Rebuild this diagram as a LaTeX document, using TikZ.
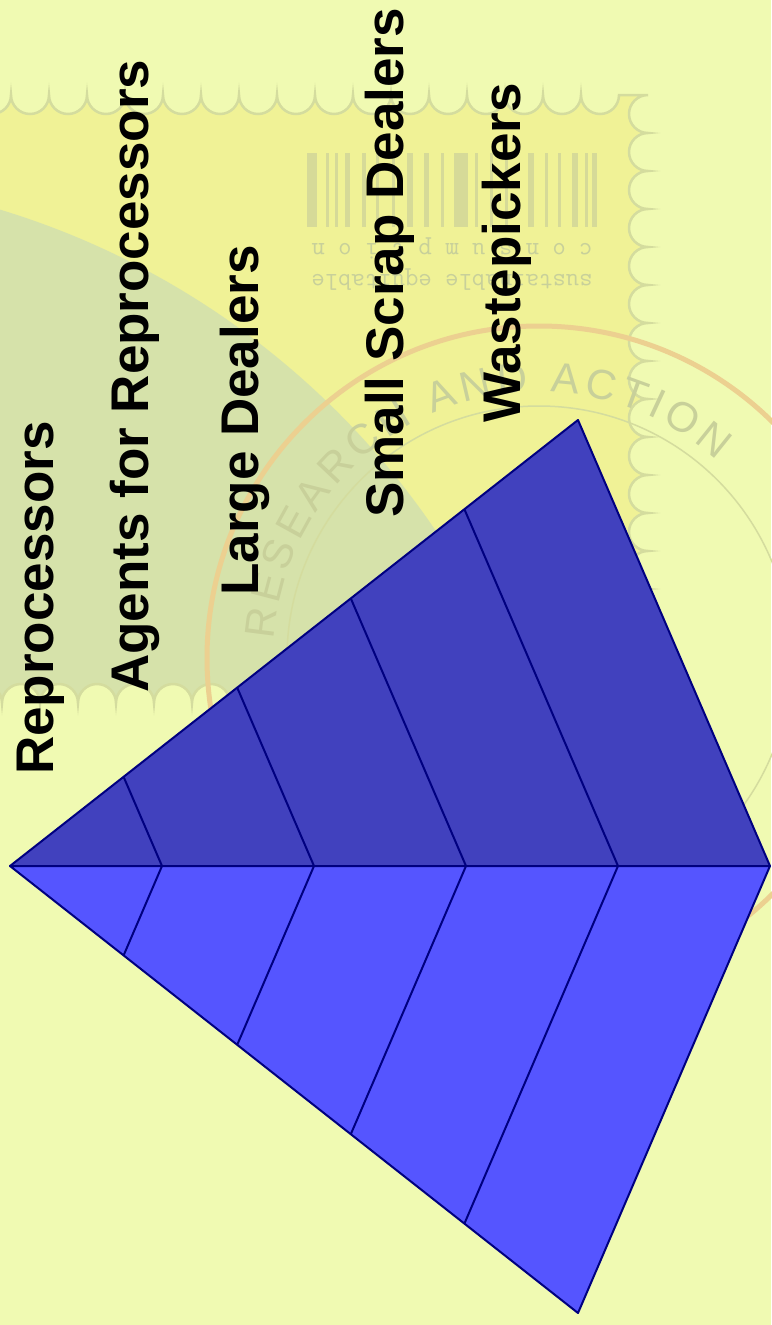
\documentclass[tikz,border=0pt]{standalone}
\usepackage{fontspec}
\setmainfont{Liberation Sans}
\usetikzlibrary{calc,decorations.text}
\definecolor{PaleLime}{HTML}{F0FAB2}
\definecolor{StampYellow}{HTML}{F0F296}
\definecolor{SealGreen}{HTML}{D6E2AA}
\definecolor{PerfLine}{HTML}{D4DC9E}
\definecolor{BarInk}{HTML}{D6DA98}
\definecolor{RingTan}{HTML}{ECD090}
\definecolor{SealInk}{HTML}{C8D09A}
\definecolor{FaceDark}{HTML}{4141BE}
\definecolor{FaceLight}{HTML}{5555FF}
\definecolor{EdgeNavy}{HTML}{000080}
\newcommand{\sealfont}{\fontsize{42}{42}\selectfont}
\newcommand{\stampshape}{(-27,95) foreach \i in {1,...,17} {arc[start angle=180,end angle=0,radius=19]} -- (648,95) foreach \i in {1,...,16} {arc[start angle=270,end angle=90,radius=19]} foreach \i in {1,...,18} {arc[start angle=0,end angle=-180,radius=19]} -- (-60,703) -- (-60,95) -- cycle}

\begin{document}
\begin{tikzpicture}[x=1pt, y=-1pt]
\tikzset{lbl/.style={rotate=90, anchor=base west, inner sep=0pt, font=\fontsize{53}{60}\selectfont\bfseries}, face/.style={draw=EdgeNavy, line width=2pt, line join=round}, tier/.style={draw=EdgeNavy, line width=2pt}, faint/.style={text=SealInk, inner sep=0pt, rotate=180, font=\fontsize{26}{26}\selectfont\ttfamily}}
\useasboundingbox (0,0) rectangle (771,1325);
\fill[PaleLime] (0,0) rectangle (771,1325);
\fill[StampYellow] \stampshape;
\begin{scope}
\clip \stampshape;
\fill[SealGreen] (-235,985) circle (810);
\end{scope}
\draw[PerfLine, line width=2.5pt] \stampshape;
\foreach \x/\w in {307/10,326/3,335/3,345/5,362/4,376/3,392/3,407/6,424/5,441/3,454/14,475/3,490/3,505/3,528/6,545/3,558/3,572/6,585/3,592/5} \fill[BarInk] (\x,153) rectangle ++(\w,74);
\node[faint] (usage) at (452,248) {c o n s u m p t i o n};
\node[faint] (motto) at (452,280) {sustainable equitable};
\coordinate (seal) at (539,658);
\draw[RingTan, line width=5pt] (seal) circle (332);
\draw[PerfLine, line width=1.5pt] (seal) circle (252);
\path[decorate, decoration={text along path, text={|\sealfont|RESEARCH AND ACTION}, text align={fit to path}, text color=SealInk}] ($(seal)+(184:266)$) arc[start angle=184, end angle=312, radius=266];
\coordinate (apex) at (10,866);
\coordinate (top) at (578,420);
\coordinate (mid) at (770,866);
\coordinate (bot) at (578,1313);
\filldraw[face, fill=FaceDark] (apex) -- (top) -- (mid) -- cycle;
\filldraw[face, fill=FaceLight] (apex) -- (mid) -- (bot) -- cycle;
\foreach \f [count=\k] in {0.2,0.4,0.6,0.8} {
  \coordinate (up\k) at ($(apex)!\f!(top)$);
  \coordinate (md\k) at ($(apex)!\f!(mid)$);
  \coordinate (lo\k) at ($(apex)!\f!(bot)$);
  \draw[tier] (up\k) -- (md\k) -- (lo\k);
}
\node[lbl] (repro) at (53,775) {Reprocessors};
\node[lbl] (agents) at (148,693) {Agents for Reprocessors};
\node[lbl] (large) at (258,596) {Large Dealers};
\node[lbl] (small) at (403,518) {Small Scrap Dealers};
\node[lbl] (pickers) at (520,423) {Wastepickers};
\end{tikzpicture}
\end{document}
